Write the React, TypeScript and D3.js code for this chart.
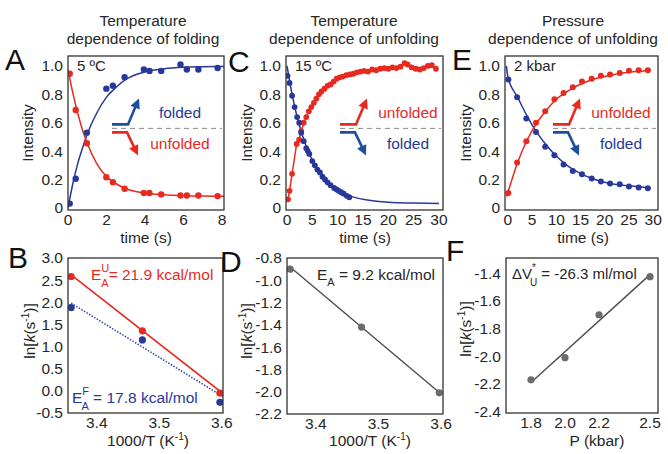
import React from "react";
import * as d3 from "d3";

const FONT = "'Liberation Sans', Arial, Helvetica, sans-serif";
const RED = "#e8291f";
const BLUE = "#27389a";
const ARROW_BLUE = "#1d4f9f";
const INK = "#262626";
const GRAYPT = "#6b6b6b";
const GRAYLN = "#4d4d4d";

// ---------------- data ----------------
// A: temperature dependence of folding, 5 ºC
const aTime = [0.09, 0.4, 0.98, 1.99, 2.33, 2.94, 3.94, 4.23, 4.84, 5.84, 6.17, 6.77, 7.77];
const aFolded = [0.03, 0.205, 0.53, 0.84, 0.86, 0.92, 0.975, 0.965, 0.965, 1.01, 0.975, 0.975, 0.985];
const aUnfolded = [0.945, 0.69, 0.455, 0.216, 0.18, 0.135, 0.105, 0.105, 0.095, 0.087, 0.087, 0.087, 0.083];
const aFitTime = [0, 0.25, 0.5, 0.75, 1, 1.5, 2, 2.5, 3, 4, 5, 6, 7, 8.1];
const aFitFolded = [0.0, 0.17, 0.31, 0.42, 0.52, 0.67, 0.78, 0.85, 0.905, 0.958, 0.98, 0.99, 0.994, 0.996];
const aFitUnfolded = [0.975, 0.81, 0.67, 0.55, 0.455, 0.31, 0.22, 0.17, 0.135, 0.105, 0.092, 0.086, 0.083, 0.081];

// C: temperature dependence of unfolding, 15 ºC
const cTimeU = [0.2, 0.5, 1.0, 1.9, 2.4, 2.8, 3.3, 3.8, 4.3, 4.8, 5.3, 5.8, 6.3, 6.8, 7.4, 8.0, 8.6, 9.2, 9.8, 10.4, 11.0, 11.7, 12.4, 13.1, 13.8, 14.5, 15.2, 16.0, 16.8, 17.6, 18.4, 19.2, 20.0, 20.8, 21.6, 22.4, 23.2, 23.8, 24.6, 25.4, 26.2, 27.0, 27.8, 28.6, 29.4];
const cUnfolded = [0.06, 0.12, 0.24, 0.45, 0.48, 0.54, 0.6, 0.64, 0.68, 0.71, 0.74, 0.77, 0.8, 0.82, 0.84, 0.86, 0.87, 0.89, 0.91, 0.92, 0.925, 0.935, 0.94, 0.945, 0.955, 0.96, 0.965, 0.96, 0.975, 0.97, 0.98, 0.985, 0.98, 0.99, 0.985, 0.995, 1.02, 1.01, 0.99, 0.98, 0.975, 0.985, 1.0, 1.005, 0.98];
const cTimeF = [0.1, 0.5, 1.0, 1.5, 2.0, 2.4, 2.8, 3.3, 3.8, 4.1, 4.4, 5.0, 5.5, 6.0, 6.5, 7.0, 7.5, 8.0, 8.6, 9.3, 9.8, 10.2, 10.7, 11.2, 11.8, 12.3];
const cFolded = [0.93, 0.88, 0.79, 0.71, 0.64, 0.6, 0.53, 0.47, 0.42, 0.4, 0.38, 0.33, 0.3, 0.27, 0.25, 0.22, 0.2, 0.18, 0.16, 0.14, 0.13, 0.12, 0.11, 0.1, 0.085, 0.075];
const cFitTime = [0, 1, 2, 3, 4, 5, 6, 8, 10, 12, 15, 20, 25, 30];
const cFitFolded = [1.0, 0.8, 0.64, 0.515, 0.415, 0.335, 0.275, 0.18, 0.127, 0.09, 0.06, 0.04, 0.034, 0.031];

// E: pressure dependence of unfolding, 2 kbar
const eTime = [0.1, 1.9, 3.8, 5.8, 7.7, 9.6, 11.5, 13.4, 15.3, 17.3, 19.2, 21.1, 23.1, 25.0, 27.0, 28.9];
const eUnfolded = [0.105, 0.32, 0.47, 0.6, 0.68, 0.765, 0.81, 0.85, 0.89, 0.91, 0.93, 0.94, 0.95, 0.966, 0.97, 0.97];
const eFolded = [0.905, 0.78, 0.63, 0.535, 0.43, 0.37, 0.305, 0.26, 0.237, 0.207, 0.185, 0.172, 0.166, 0.15, 0.143, 0.138];
const eFitTime = [-0.3, 0, 2, 4, 6, 8, 10, 12, 14, 16, 18, 20, 22, 25, 28, 29.5];
const eFitFolded = [1.0, 0.92, 0.78, 0.645, 0.53, 0.44, 0.365, 0.305, 0.26, 0.225, 0.2, 0.18, 0.167, 0.155, 0.146, 0.142];
const eFitUnfolded = [0.08, 0.11, 0.32, 0.48, 0.6, 0.69, 0.765, 0.815, 0.855, 0.885, 0.91, 0.925, 0.94, 0.955, 0.965, 0.97];

// B: Arrhenius plot, folding & unfolding
const bInvT = [3.359, 3.473, 3.597];
const bLnKUnf = [2.58, 1.355, -0.05];
const bLnKFold = [1.88, 1.15, -0.26];
const bFitInvT = [3.359, 3.602];
const bFitUnf = [2.62, -0.06];
const bFitFold = [1.98, -0.13];

// D: Arrhenius plot, unfolding
const dInvT = [3.359, 3.473, 3.597];
const dLnK = [-0.9, -1.42, -2.01];
const dFitInvT = [3.359, 3.6];
const dFitLnK = [-0.88, -2.02];

// F: pressure dependence
const fP = [1.8, 2.0, 2.2, 2.5];
const fLnK = [-2.17, -2.01, -1.7, -1.425];
const fFitP = [1.8, 2.5];
const fFitLnK = [-2.19, -1.41];

// tick values
const intensityTicks = [0, 0.2, 0.4, 0.6, 0.8, 1.0];
const aTimeTicks = [0, 2, 4, 6, 8];
const ceTimeTicks = [0, 5, 10, 15, 20, 25, 30];
const invTTicks = [3.4, 3.5, 3.6];
const bTicks = [3.0, 2.5, 2.0, 1.5, 1.0, 0.5, 0.0, -0.5];
const dTicks = [-0.8, -1.0, -1.2, -1.4, -1.6, -1.8, -2.0, -2.2];
const fTicks = [-1.4, -1.6, -1.8, -2.0, -2.2, -2.4];
const pTicks = [1.8, 2.0, 2.2, 2.5];

// ---------------- helpers ----------------
type Fr = { l: number; r: number; t: number; b: number };

function pathOf(xs: number[], ys: number[], x: any, y: any, curve: any) {
  return d3
    .line<number>()
    .x((i) => x(xs[i]))
    .y((i) => y(ys[i]))
    .curve(curve)(d3.range(xs.length)) as string;
}

function Arrow({ pts, color }: { pts: [number, number][]; color: string }) {
  const n = pts.length;
  const [tx, ty] = pts[n - 1];
  const [px, py] = pts[n - 2];
  const len = Math.hypot(tx - px, ty - py);
  const ux = (tx - px) / len;
  const uy = (ty - py) / len;
  const L = 10;
  const W = 5;
  const bx = tx - ux * L;
  const by = ty - uy * L;
  const shaft = pts.slice(0, n - 1).concat([[bx + ux * 2, by + uy * 2]]);
  return (
    <g>
      <path d={d3.line()(shaft) as string} fill="none" stroke={color} strokeWidth={2.6} strokeLinejoin="miter" />
      <path d={`M${tx},${ty}L${bx - uy * W},${by + ux * W}L${bx + uy * W},${by - ux * W}Z`} fill={color} />
    </g>
  );
}

type Series = { xs: number[]; ys: number[]; color: string; connect?: boolean; r?: number };
type Fit = { xs: number[]; ys: number[]; color: string; curve?: boolean; dash?: string; width?: number };

const TICK_FS = 15.5;

function FramePanel(p: {
  id: string;
  f: Fr;
  xDomain: [number, number];
  yDomain: [number, number];
  xTicks: number[];
  yTicks: number[];
  xFmt: (v: number) => string;
  yFmt: (v: number) => string;
  fits: Fit[];
  series: Series[];
  children?: (x: any, y: any) => React.ReactNode;
}) {
  const { f } = p;
  const x = d3.scaleLinear().domain(p.xDomain).range([f.l, f.r]);
  const y = d3.scaleLinear().domain(p.yDomain).range([f.b, f.t]);
  const clip = `clip-${p.id}`;
  return (
    <g>
      <defs>
        <clipPath id={clip}>
          <rect x={f.l} y={f.t} width={f.r - f.l} height={f.b - f.t} />
        </clipPath>
      </defs>
      <g clipPath={`url(#${clip})`}>
        {p.fits.map((ft, k) => (
          <path
            key={k}
            d={pathOf(ft.xs, ft.ys, x, y, ft.curve ? d3.curveMonotoneX : d3.curveLinear)}
            fill="none"
            stroke={ft.color}
            strokeWidth={ft.width ?? 1.5}
            strokeDasharray={ft.dash}
          />
        ))}
        {p.series.map((s, k) => (
          <g key={k}>
            {s.connect && (
              <path d={pathOf(s.xs, s.ys, x, y, d3.curveLinear)} fill="none" stroke={s.color} strokeWidth={1.5} />
            )}
            {s.xs.map((v, i) => (
              <circle key={i} cx={x(v)} cy={y(s.ys[i])} r={s.r ?? 3.2} fill={s.color} />
            ))}
          </g>
        ))}
      </g>
      {p.children && p.children(x, y)}
      <rect x={f.l} y={f.t} width={f.r - f.l} height={f.b - f.t} fill="none" stroke="#333" strokeWidth={1.3} />
      {p.yTicks.map((v) => (
        <text key={`y${v}`} x={f.l - 5} y={y(v)} dy="0.35em" textAnchor="end" fontSize={TICK_FS} fill={INK}>
          {p.yFmt(v)}
        </text>
      ))}
      {p.xTicks.map((v) => (
        <text key={`x${v}`} x={x(v)} y={f.b + 15} textAnchor="middle" fontSize={TICK_FS} fill={INK}>
          {p.xFmt(v)}
        </text>
      ))}
    </g>
  );
}

function Legend({
  x0,
  x1,
  yd,
  upper,
  lower,
  upColor,
  downColor,
}: {
  x0: number;
  x1: number;
  yd: number;
  upper: string;
  lower: string;
  upColor: [string, string];
  downColor: [string, string];
}) {
  return (
    <g>
      <line x1={x0} x2={x1} y1={yd} y2={yd} stroke="#8a8a8a" strokeWidth={1} strokeDasharray="5,4" />
      <Arrow pts={[[x0, yd - 4], [x0 + 16, yd - 4], [x0 + 27, yd - 30]]} color={upColor[0]} />
      <Arrow pts={[[x0, yd + 4], [x0 + 15, yd + 4], [x0 + 26, yd + 27]]} color={downColor[0]} />
      <text x={x0 + 68} y={yd - 10} textAnchor="middle" fontSize={15.5} fill={upColor[1]}>
        {upper}
      </text>
      <text x={x0 + 68} y={yd + 21} textAnchor="middle" fontSize={15.5} fill={downColor[1]}>
        {lower}
      </text>
    </g>
  );
}

const fmt1 = (v: number) => v.toFixed(1);
const fmtInt = (v: number) => String(v);
const fmtIntensity = (v: number) => (v === 0 ? "0" : v.toFixed(1));

function Title({ cx, lines }: { cx: number; lines: string[] }) {
  return (
    <g>
      {lines.map((s, i) => (
        <text key={i} x={cx} y={26 + i * 17.5} textAnchor="middle" fontSize={15.5} fill={INK}>
          {s}
        </text>
      ))}
    </g>
  );
}

function Letter({ x, y, s }: { x: number; y: number; s: string }) {
  return (
    <text x={x} y={y} fontSize={30} fill="#111">
      {s}
    </text>
  );
}

function YLabelIntensity({ cx, cy }: { cx: number; cy: number }) {
  return (
    <text transform={`translate(${cx},${cy}) rotate(-90)`} dy="0.35em" textAnchor="middle" fontSize={15.5} fill={INK}>
      Intensity
    </text>
  );
}

function YLabelLnK({ cx, cy }: { cx: number; cy: number }) {
  return (
    <text transform={`translate(${cx},${cy}) rotate(-90)`} dy="0.35em" textAnchor="middle" fontSize={15.5} fill={INK}>
      ln[<tspan fontStyle="italic">k</tspan>(s
      <tspan dy={-6} fontSize={10}>
        -1
      </tspan>
      <tspan dy={6}>)]</tspan>
    </text>
  );
}

function XLabelInvT({ cx }: { cx: number }) {
  return (
    <text x={cx} y={446} textAnchor="middle" fontSize={15.5} fill={INK}>
      1000/T (K
      <tspan dy={-6} fontSize={10}>
        -1
      </tspan>
      <tspan dy={6}>)</tspan>
    </text>
  );
}

function TimeLabel({ cx }: { cx: number }) {
  return (
    <text x={cx} y={243} textAnchor="middle" fontSize={15.5} fill={INK}>
      time (s)
    </text>
  );
}

const TOP: Fr[] = [
  { l: 68, r: 224, t: 56, b: 210 },
  { l: 286, r: 443, t: 56, b: 210 },
  { l: 505, r: 658, t: 56, b: 210 },
];
const BOT: Fr[] = [
  { l: 68, r: 223, t: 258, b: 413 },
  { l: 287, r: 443, t: 258, b: 414 },
  { l: 506, r: 658, t: 258, b: 413 },
];
const LEGEND_LEVEL = 0.56;

export default function App() {
  return (
    <svg
      width={668}
      height={454}
      viewBox="0 0 668 454"
      style={{ position: "absolute", left: 0, top: 0, background: "#fff" }}
      fontFamily={FONT}
    >
      <rect width={668} height={454} fill="#fff" />
      <Title cx={143} lines={["Temperature", "dependence of folding"]} />
      <Title cx={354} lines={["Temperature", "dependence of unfolding"]} />
      <Title cx={573} lines={["Pressure", "dependence of unfolding"]} />

      {/* A */}
      <Letter x={5} y={70} s="A" />
      <YLabelIntensity cx={28} cy={133} />
      <FramePanel
        id="a"
        f={TOP[0]}
        xDomain={[0, 8.1]}
        yDomain={[-0.015, 1.07]}
        xTicks={aTimeTicks}
        yTicks={intensityTicks}
        xFmt={fmtInt}
        yFmt={fmtIntensity}
        fits={[
          { xs: aFitTime, ys: aFitFolded, color: BLUE, curve: true },
          { xs: aFitTime, ys: aFitUnfolded, color: RED, curve: true },
        ]}
        series={[
          { xs: aTime, ys: aFolded, color: BLUE },
          { xs: aTime, ys: aUnfolded, color: RED },
        ]}
      >
        {(x, y) => (
          <g>
            <text x={TOP[0].l + 9} y={71} fontSize={15} fill={INK}>
              5 ºC
            </text>
            <Legend
              x0={TOP[0].l + 44}
              x1={TOP[0].r - 2}
              yd={y(LEGEND_LEVEL)}
              upper="folded"
              lower="unfolded"
              upColor={[ARROW_BLUE, BLUE]}
              downColor={[RED, RED]}
            />
          </g>
        )}
      </FramePanel>
      <TimeLabel cx={146} />

      {/* C */}
      <Letter x={228} y={72} s="C" />
      <YLabelIntensity cx={247} cy={133} />
      <FramePanel
        id="c"
        f={TOP[1]}
        xDomain={[-0.2, 30.8]}
        yDomain={[-0.015, 1.07]}
        xTicks={ceTimeTicks}
        yTicks={intensityTicks}
        xFmt={fmtInt}
        yFmt={fmtIntensity}
        fits={[{ xs: cFitTime, ys: cFitFolded, color: BLUE, curve: true }]}
        series={[
          { xs: cTimeU, ys: cUnfolded, color: RED, connect: true, r: 2.9 },
          { xs: cTimeF, ys: cFolded, color: BLUE, r: 2.9 },
        ]}
      >
        {(x, y) => (
          <g>
            <text x={TOP[1].l + 9} y={71} fontSize={15} fill={INK}>
              15 ºC
            </text>
            <Legend
              x0={TOP[1].l + 54}
              x1={TOP[1].r - 2}
              yd={y(LEGEND_LEVEL)}
              upper="unfolded"
              lower="folded"
              upColor={[RED, RED]}
              downColor={[ARROW_BLUE, BLUE]}
            />
          </g>
        )}
      </FramePanel>
      <TimeLabel cx={365} />

      {/* E */}
      <Letter x={452} y={70} s="E" />
      <YLabelIntensity cx={466} cy={133} />
      <FramePanel
        id="e"
        f={TOP[2]}
        xDomain={[-0.6, 31]}
        yDomain={[-0.015, 1.07]}
        xTicks={ceTimeTicks}
        yTicks={intensityTicks}
        xFmt={fmtInt}
        yFmt={fmtIntensity}
        fits={[
          { xs: eFitTime, ys: eFitFolded, color: BLUE, curve: true },
          { xs: eFitTime, ys: eFitUnfolded, color: RED, curve: true },
        ]}
        series={[
          { xs: eTime, ys: eUnfolded, color: RED, r: 3 },
          { xs: eTime, ys: eFolded, color: BLUE, r: 3 },
        ]}
      >
        {(x, y) => (
          <g>
            <text x={TOP[2].l + 9} y={71} fontSize={15} fill={INK}>
              2 kbar
            </text>
            <Legend
              x0={TOP[2].l + 48}
              x1={TOP[2].r - 2}
              yd={y(LEGEND_LEVEL)}
              upper="unfolded"
              lower="folded"
              upColor={[RED, RED]}
              downColor={[ARROW_BLUE, BLUE]}
            />
          </g>
        )}
      </FramePanel>
      <TimeLabel cx={583} />

      {/* B */}
      <Letter x={8} y={268} s="B" />
      <YLabelLnK cx={30} cy={331} />
      <FramePanel
        id="b"
        f={BOT[0]}
        xDomain={[3.354, 3.602]}
        yDomain={[-0.5, 3.0]}
        xTicks={invTTicks}
        yTicks={bTicks}
        xFmt={fmt1}
        yFmt={fmt1}
        fits={[
          { xs: bFitInvT, ys: bFitUnf, color: RED, width: 1.6 },
          { xs: bFitInvT, ys: bFitFold, color: "#3a4aa8", dash: "1.5,1.5", width: 1.6 },
        ]}
        series={[
          { xs: bInvT, ys: bLnKUnf, color: RED, r: 3.6 },
          { xs: bInvT, ys: bLnKFold, color: BLUE, r: 3.6 },
        ]}
      >
        {() => (
          <g fontSize={15.5}>
            <text x={91} y={280} fill={RED}>
              E
              <tspan dy={-8} fontSize={11}>
                U
              </tspan>
              <tspan dx={-8} dy={15} fontSize={11}>
                A
              </tspan>
              <tspan dy={-7}>= 21.9 kcal/mol</tspan>
            </text>
            <text x={72} y={403} fill={BLUE}>
              E
              <tspan dy={-8} fontSize={11}>
                F
              </tspan>
              <tspan dx={-7} dy={15} fontSize={11}>
                A
              </tspan>
              <tspan dy={-7}> = 17.8 kcal/mol</tspan>
            </text>
          </g>
        )}
      </FramePanel>
      <XLabelInvT cx={148} />

      {/* D */}
      <Letter x={220} y={272} s="D" />
      <YLabelLnK cx={247} cy={331} />
      <FramePanel
        id="d"
        f={BOT[1]}
        xDomain={[3.354, 3.603]}
        yDomain={[-2.2, -0.8]}
        xTicks={invTTicks}
        yTicks={dTicks}
        xFmt={fmt1}
        yFmt={fmt1}
        fits={[{ xs: dFitInvT, ys: dFitLnK, color: GRAYLN, width: 1.4 }]}
        series={[{ xs: dInvT, ys: dLnK, color: GRAYPT, r: 3.6 }]}
      >
        {() => (
          <text x={317} y={280} fontSize={15.5} fill={INK}>
            E
            <tspan dy={6} fontSize={11}>
              A
            </tspan>
            <tspan dy={-6}> = 9.2 kcal/mol</tspan>
          </text>
        )}
      </FramePanel>
      <XLabelInvT cx={370} />

      {/* F */}
      <Letter x={446} y={261} s="F" />
      <YLabelLnK cx={466} cy={329} />
      <FramePanel
        id="f"
        f={BOT[2]}
        xDomain={[1.653, 2.547]}
        yDomain={[-2.41, -1.29]}
        xTicks={pTicks}
        yTicks={fTicks}
        xFmt={fmt1}
        yFmt={fmt1}
        fits={[{ xs: fFitP, ys: fFitLnK, color: GRAYLN, width: 1.4 }]}
        series={[{ xs: fP, ys: fLnK, color: GRAYPT, r: 3.6 }]}
      >
        {() => (
          <text x={512} y={279} fontSize={15} fill={INK}>
            ΔV
            <tspan dy={-8} fontSize={10}>
              *
            </tspan>
            <tspan dx={-6} dy={15} fontSize={10}>
              U
            </tspan>
            <tspan dy={-7}> = -26.3 ml/mol</tspan>
          </text>
        )}
      </FramePanel>
      <text x={597} y={446} textAnchor="middle" fontSize={15.5} fill={INK}>
        P (kbar)
      </text>
    </svg>
  );
}
